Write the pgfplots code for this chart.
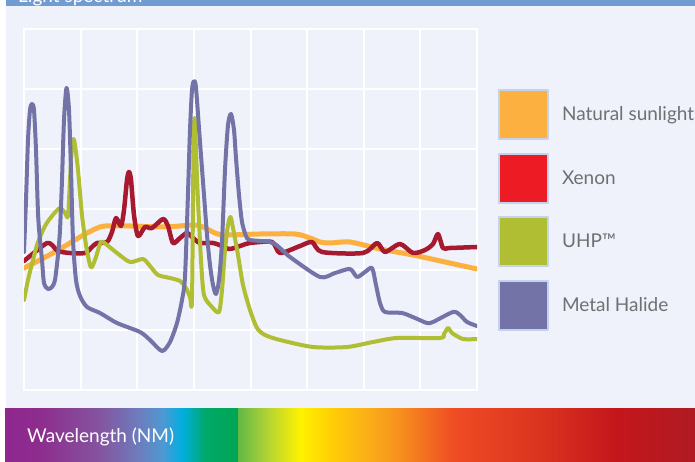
\documentclass[border=0pt]{standalone}
\usepackage{fontspec}
\setmainfont{Lato}
\usepackage{pgfplots}
\pgfplotsset{compat=1.18}

\definecolor{panel}{HTML}{EFF2FA}
\definecolor{topbar}{HTML}{709CD2}
\definecolor{legtext}{HTML}{707073}
\definecolor{legbord}{HTML}{C4D2EC}
\definecolor{sunline}{HTML}{FBB040}
\definecolor{xenline}{HTML}{A6192E}
\definecolor{xenleg}{HTML}{ED1C24}
\definecolor{uhpline}{HTML}{AFBE33}
\definecolor{mhline}{HTML}{7473A8}
% spectrum stops
\definecolor{s01}{HTML}{8E278F}
\definecolor{s02}{HTML}{8E2D8E}
\definecolor{s03}{HTML}{8455A0}
\definecolor{s04}{HTML}{6C7EBE}
\definecolor{s05}{HTML}{4F98D2}
\definecolor{s06}{HTML}{00AEE0}
\definecolor{s07}{HTML}{00A86A}
\definecolor{s08}{HTML}{00A651}
\definecolor{s09}{HTML}{62B846}
\definecolor{s10}{HTML}{B2D235}
\definecolor{s11}{HTML}{FFF200}
\definecolor{s12}{HTML}{FFCC05}
\definecolor{s13}{HTML}{FBB117}
\definecolor{s14}{HTML}{F7941D}
\definecolor{s15}{HTML}{EF4B24}
\definecolor{s16}{HTML}{D9321F}
\definecolor{s17}{HTML}{C4161C}
\definecolor{s18}{HTML}{AF1B22}

\newcommand{\bigfont}{\fontsize{19}{22}\selectfont}

\begin{document}
\begin{tikzpicture}[x=1pt,y=1pt]
\useasboundingbox (0,0) rectangle (695,462);
\fill[panel] (5.5,53) rectangle (695,456);
\fill[topbar] (5.5,456) rectangle (695,462);
\node[anchor=base west, text=white, font=\bigfont, inner sep=0pt] at (18,459.5) {Light spectrum};

% spectrum bar
\shade[left color=s01, right color=s02] (5,0) rectangle (40.3,53);
\shade[left color=s02, right color=s03] (40,0) rectangle (100.3,53);
\shade[left color=s03, right color=s04] (100,0) rectangle (140.3,53);
\shade[left color=s04, right color=s05] (140,0) rectangle (162.3,53);
\shade[left color=s05, right color=s06] (162,0) rectangle (182.3,53);
\shade[left color=s06, right color=s07] (182,0) rectangle (205.3,53);
\shade[left color=s07, right color=s08] (205,0) rectangle (238.3,53);
\shade[left color=s09, right color=s10] (238,0) rectangle (267.3,53);
\shade[left color=s10, right color=s11] (267,0) rectangle (300.3,53);
\shade[left color=s11, right color=s12] (300,0) rectangle (333.3,53);
\shade[left color=s12, right color=s13] (333,0) rectangle (365.3,53);
\shade[left color=s13, right color=s14] (365,0) rectangle (395.3,53);
\shade[left color=s14, right color=s15] (395,0) rectangle (455.3,53);
\shade[left color=s15, right color=s16] (455,0) rectangle (545.3,53);
\shade[left color=s16, right color=s17] (545,0) rectangle (615.3,53);
\shade[left color=s17, right color=s18] (615,0) rectangle (695,53);
\node[anchor=base west, text=white, font=\bigfont, inner sep=0pt] at (27,19) {Wavelength (NM)};

\begin{axis}[
    at={(24pt,72pt)}, anchor=south west,
    scale only axis, width=453pt, height=361pt,
    xmin=24, xmax=477, ymin=0, ymax=361,
    xtick={24,80.625,137.25,193.875,250.5,307.125,363.75,420.375,477},
    ytick={0,60.167,120.333,180.5,240.667,300.833,361},
    xticklabels={}, yticklabels={},
    major tick length=0pt,
    grid=major,
    grid style={white, line width=2pt},
    axis line style={white, line width=2pt},
    legend cell align=left,
    legend style={at={(1.0464,0.8338)}, anchor=north west,
        draw=none, fill=none, inner sep=0pt, outer sep=0pt,
        row sep=12.6pt, font=\bigfont,
        nodes={inner sep=0pt, text=legtext},
        /tikz/every odd column/.append style={column sep=13pt}},
    every axis plot/.append style={smooth, tension=0.45, line cap=round, line join=round},
  ]
% Natural sunlight
\addplot[color=sunline, line width=5pt,
  legend image code/.code={\draw[fill=sunline, draw=legbord, line width=2pt] (0pt,-24.5pt) rectangle (49pt,24.5pt);}]
  coordinates {
  (24,122) (40,130) (60,141) (80,153) (95,161) (105,164) (130,164) (165,163)
  (193,165) (203,163) (215,157) (225,155) (260,156) (295,156) (310,152) (320,148)
  (330,147) (350,148) (380,141) (413,135) (445,128) (477,121)
  };
\addlegendentry{Natural sunlight}
% Xenon
\addplot[color=xenline, line width=4.5pt,
  legend image code/.code={\draw[fill=xenleg, draw=legbord, line width=2pt] (0pt,-24.5pt) rectangle (49pt,24.5pt);}]
  coordinates {
  (24,129) (35,138) (47,147) (52,145) (58,139) (70,137) (85,137) (92,143)
  (97,147) (107,148) (112,158) (116,172) (121,164) (124,180) (127,210) (129,218)
  (131,210) (134,175) (138,154) (145,163) (152,162) (163,171) (168,164) (173,147)
  (180,152) (187,157) (193,152) (200,147) (213,147) (222,144) (230,141) (243,145)
  (250,147) (272,148) (280,137) (300,144) (312,148) (322,138) (363,137) (377,147)
  (385,138) (400,146) (413,137) (425,140) (433,146) (438,156) (443,142) (450,142)
  (477,143)
  };
\addlegendentry{Xenon}
% UHP
\addplot[color=uhpline, line width=4pt,
  legend image code/.code={\draw[fill=uhpline, draw=legbord, line width=2pt] (0pt,-24.5pt) rectangle (49pt,24.5pt);}]
  coordinates {
  (24,90) (28,110) (33,130) (38,148) (45,164) (52,174) (60,182) (65,177)
  (68,174) (70,210) (72,245) (73.5,251) (75,245) (78,220) (82,175) (86,145)
  (90,125) (92,123) (96,133) (100,146) (103,148) (117,137) (130,128) (143,131)
  (150,124) (158,115) (170,112) (180,109) (186,102) (190,93) (192,91) (193.5,240)
  (194.5,272) (196,240) (197.5,200) (201,130) (204,95) (212,83) (219,78) (222,100)
  (225,140) (228,165) (230.5,173) (233,162) (238,135) (243,105) (250,80) (257,62)
  (265,55) (280,50) (313,43) (347,43) (373,48) (397,52) (440,52) (444,56)
  (448,62) (452,57) (463,51) (477,51)
  };
\addlegendentry{UHP™}
% Metal Halide
\addplot[color=mhline, line width=4pt,
  legend image code/.code={\draw[fill=mhline, draw=legbord, line width=2pt] (0pt,-24.5pt) rectangle (49pt,24.5pt);}]
  coordinates {
  (24,138) (26,190) (28,250) (30,280) (32,286) (34,280) (36,240) (38,177)
  (40,150) (42,130) (44,107) (48,101) (52,103) (55,110) (58,135) (60,160)
  (62,210) (64,270) (66.5,302) (69,280) (71,220) (73,150) (76,110) (80,94)
  (87,83) (100,77) (117,67) (140,58) (150,50) (162,39) (170,48) (177,67)
  (182,90) (185,113) (188,197) (190,260) (192,300) (194,309) (196,302) (200,248)
  (204,195) (207,155) (210,125) (213,105) (216,96) (219,110) (222,148) (225,220)
  (228,265) (231,276) (234,260) (236,232) (239,195) (242,168) (246,154) (250,150)
  (273,147) (290,133) (320,113) (335,117) (350,121) (357,113) (365,118) (372,122)
  (376,105) (380,87) (385,78) (402,77) (415,72) (427,67) (433,68) (453,78)
  (460,75) (467,68) (477,64)
  };
\addlegendentry{Metal Halide}
\end{axis}
\end{tikzpicture}
\end{document}
